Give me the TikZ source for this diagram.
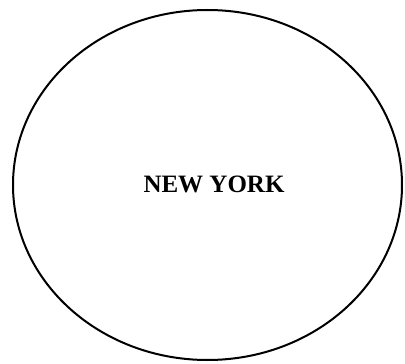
\documentclass[tikz,border=0pt]{standalone}
\usepackage{fontspec}
\setmainfont{Liberation Serif}
\usetikzlibrary{shapes.geometric}
\begin{document}
\begin{tikzpicture}[x=1pt,y=-1pt,
  region/.style={draw=black, line width=2pt, ellipse, inner sep=0pt, minimum width=389pt, minimum height=350pt},
  label/.style={font=\fontsize{25}{30}\selectfont\bfseries, inner sep=0pt}]
\useasboundingbox (0,0) rectangle (405,364);
\node[region] (ny) at (207.5,185) {};
\node[label] (t) at (214,184) {NEW YORK};
\end{tikzpicture}
\end{document}
